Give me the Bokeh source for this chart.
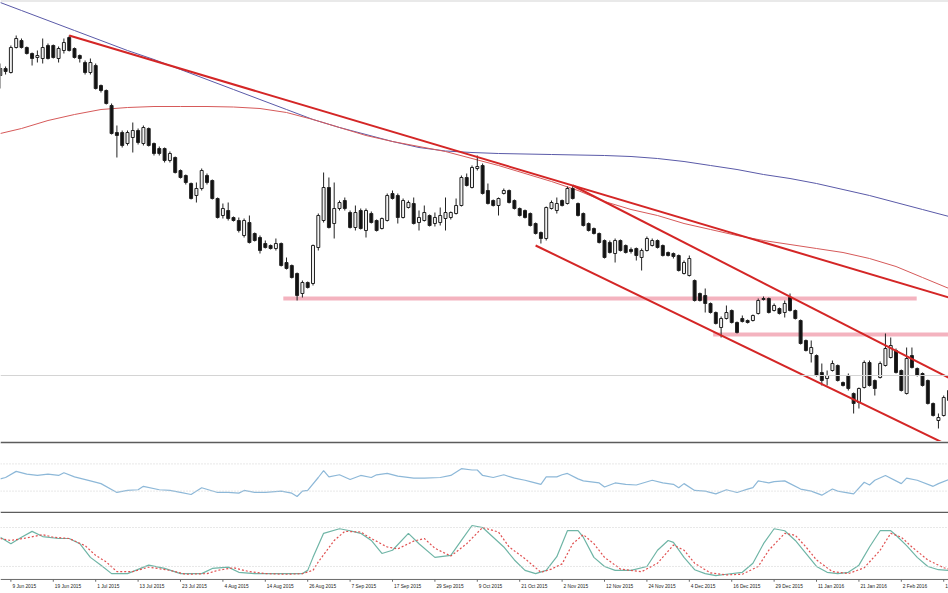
from bokeh.plotting import figure
from bokeh.layouts import column
from bokeh.models import Range1d, ColumnDataSource, Span
from bokeh.core.properties import value
from bokeh.embed import file_html
from bokeh.resources import INLINE

# ---------------- data ----------------
first_bar = 6  # bar index of the first visible candle (bar 0 = 28 May 2015)
opens = [186.5,187.2,186.8,189.3,190.0,189.3,188.7,188.3,188.2,189.5,189.5,188.2,189.0,190.3,189.2,188.5,187.8,186.8,187.5,185.5,
         185.0,183.5,180.8,180.8,179.7,180.3,181.0,179.7,181.2,179.7,179.2,179.2,178.0,178.3,177.0,176.5,175.7,174.5,175.2,176.5,
         176.0,174.2,172.5,173.0,172.3,172.0,170.5,171.8,170.7,170.3,169.7,169.5,169.2,169.7,167.8,167.5,166.7,164.7,165.8,165.7,
         169.3,172.0,175.3,171.7,173.2,174.0,172.8,171.3,173.0,171.0,172.7,172.0,171.2,172.0,174.7,174.5,172.3,173.3,173.7,171.8,
         172.0,172.5,171.7,171.8,172.2,172.3,172.7,173.5,176.3,175.3,177.2,177.5,175.0,174.0,173.5,174.7,175.0,174.0,173.2,173.0,
         172.7,171.7,170.8,170.2,173.2,173.0,174.0,173.7,175.2,173.7,172.7,171.7,171.2,170.7,170.0,169.8,168.7,170.0,169.5,169.1,
         169.2,168.3,169.0,169.5,170.0,169.5,168.8,168.7,168.5,166.7,166.5,166.0,164.7,164.5,163.7,162.8,161.3,162.2,163.0,161.8,
         162.2,162.0,162.0,162.7,164.2,164.2,163.0,163.2,162.8,164.3,163.0,162.0,160.0,158.7,158.5,156.8,156.2,157.0,157.5,155.8,
         156.5,154.7,153.8,155.3,157.8,156.0,156.3,157.5,158.3,159.0,157.0,154.7,158.5,157.2,156.7,156.0,153.7,152.0,152.5,154.0]
highs = [187.7,187.4,189.5,190.5,190.2,189.4,188.8,189.0,190.2,189.7,189.6,189.4,190.2,190.5,189.3,188.6,188.0,188.2,187.7,185.6,
         185.1,183.7,181.5,181.0,181.0,181.8,181.2,181.5,181.3,179.8,179.4,179.3,178.9,178.4,177.1,176.6,175.8,175.8,177.2,176.7,
         176.1,174.3,173.7,173.8,172.4,172.3,172.2,172.5,170.8,170.5,170.0,169.6,170.2,169.8,168.3,167.6,166.8,166.0,165.9,169.6,
         172.7,176.8,176.3,175.8,174.0,174.3,173.0,173.5,173.2,173.2,172.9,172.1,172.3,174.7,175.0,174.7,174.2,174.0,174.3,173.0,
         173.5,172.6,172.8,173.3,174.3,172.9,174.2,176.5,176.7,177.5,178.5,177.7,175.7,174.1,174.3,175.2,175.1,174.1,173.3,173.1,
         172.8,171.8,170.9,173.4,174.0,174.3,174.1,175.4,175.5,173.8,172.8,171.8,171.3,170.8,170.1,170.0,170.2,170.1,169.6,169.3,
         169.3,169.2,170.4,170.2,170.1,169.6,168.9,168.8,168.6,168.0,168.5,166.1,164.8,165.2,163.8,162.9,162.4,163.5,163.1,161.9,
         162.5,162.1,162.6,164.2,164.4,164.3,163.7,163.3,164.0,164.7,163.1,162.1,160.1,160.0,158.6,157.7,157.0,158.0,157.6,155.9,
         156.7,154.8,155.3,158.0,158.0,156.1,157.9,160.7,160.3,159.2,157.1,159.3,159.3,157.3,156.8,156.1,153.8,152.7,154.5,155.2]
lows = [185.2,186.6,186.7,189.2,189.2,188.6,187.5,187.8,187.7,188.1,188.2,187.8,188.7,188.9,188.2,187.8,186.6,186.6,185.1,184.8,
        183.6,180.6,178.3,179.3,179.5,178.8,179.6,179.5,179.4,178.5,178.5,177.8,177.8,176.7,176.2,175.6,174.1,173.8,175.0,175.6,
        174.1,172.2,172.2,172.0,171.9,170.8,170.3,169.7,169.9,168.7,169.2,169.1,169.0,167.4,167.1,166.2,164.0,164.3,165.2,165.5,
        169.0,171.8,171.2,170.2,173.0,173.0,171.2,171.0,171.1,170.3,171.7,170.9,171.1,171.9,174.1,171.7,172.2,173.2,171.6,171.0,
        171.9,171.4,171.4,171.5,171.0,172.1,172.6,173.4,175.4,175.2,177.0,174.6,173.6,173.4,172.5,174.6,173.7,173.1,172.4,172.2,
        171.4,170.6,169.7,170.0,173.1,172.7,173.4,173.6,174.1,172.4,171.4,170.9,170.6,169.7,168.2,168.7,167.8,168.9,168.7,168.7,
        168.0,167.0,168.9,169.4,169.2,168.4,168.4,168.2,166.9,166.6,166.4,163.9,163.9,162.8,162.7,161.6,160.3,162.1,161.7,160.7,
        161.8,161.7,161.9,162.6,164.0,162.7,162.9,162.6,162.3,162.9,162.1,159.6,158.9,157.8,156.4,155.5,155.5,156.9,155.9,155.4,
        155.0,152.7,153.2,155.2,155.4,154.5,156.2,157.4,158.2,156.7,154.9,154.6,157.2,156.4,155.4,153.6,152.4,151.2,152.4,153.9]
closes = [187.2,186.9,189.3,190.2,189.3,188.7,188.2,188.5,189.3,188.2,188.3,189.2,189.8,189.0,188.3,188.2,186.8,187.8,185.2,185.0,
          183.7,180.7,180.5,179.5,180.8,181.0,179.8,181.3,179.5,178.7,178.7,178.0,178.7,176.8,176.3,175.8,174.2,175.2,177.0,175.8,
          174.2,172.3,173.2,172.2,172.0,171.0,172.0,169.8,170.0,169.0,169.3,169.2,169.7,167.5,167.2,166.3,164.5,165.8,165.3,169.5,
          172.5,175.3,171.3,173.2,173.8,173.2,171.3,172.8,171.2,173.0,171.8,171.0,172.2,174.5,174.2,172.3,174.0,173.8,171.7,172.3,
          172.8,171.5,172.3,172.5,172.8,172.8,173.5,176.3,175.5,177.3,177.4,174.7,173.7,173.5,174.2,175.0,173.8,173.2,172.5,172.3,
          171.5,170.7,170.2,173.3,173.8,173.7,173.5,175.2,174.2,172.5,171.5,171.0,170.7,169.8,168.3,168.8,170.0,169.0,168.8,168.9,
          168.5,169.0,170.2,170.0,169.3,168.5,168.5,168.4,167.0,167.8,168.2,164.0,164.0,163.7,162.8,161.7,162.2,162.8,161.8,160.8,
          161.9,161.8,162.5,164.0,164.1,162.8,163.5,162.7,163.7,163.0,162.2,159.7,159.0,159.3,156.5,156.0,156.5,157.7,156.0,155.5,
          155.2,153.7,155.2,157.8,155.5,155.2,157.7,159.2,159.5,156.8,155.0,158.2,157.3,156.5,155.5,153.7,152.5,152.3,154.3,155.0]

# moving averages (read every 5 bars)
ma_bars = [6,10,15,20,25,30,35,40,45,50,55,60,65,70,75,80,85,90,95,100,105,110,115,120,125,130,135,140,145,150,155,160,165,170,175,180,185]
ma_blue = [193.8,193.0,192.0,191.0,190.0,189.0,188.1,187.1,186.1,185.1,184.1,183.1,182.1,181.3,180.6,179.9,179.3,178.95,178.8,178.7,
           178.65,178.6,178.55,178.5,178.4,178.2,177.9,177.5,177.1,176.6,176.2,175.7,175.1,174.5,173.8,173.1,172.4]
ma_red = [180.7,181.2,182.0,182.6,183.1,183.3,183.4,183.4,183.4,183.35,183.2,182.8,182.1,181.3,180.5,179.9,179.4,178.9,178.2,177.5,
          176.7,175.9,175.0,173.9,173.1,172.5,171.7,171.1,170.5,170.0,169.6,169.2,168.8,168.2,167.4,166.3,165.2]

# trend lines (bar, price) -> (bar, price)
tl_x0 = [19, 114, 107]
tl_y0 = [190.5, 175.5, 169.5]
tl_x1 = [190, 190, 190]
tl_y1 = [163.5, 154.9, 148.2]

# horizontal levels
lvl_price = [164.2, 160.6]
lvl_x0 = [59.4, 140.5]
lvl_x1 = [178.9, 190.0]
ref_price = 156.5

# RSI
rsi_bars = [6,7,9,11,13,15,17,18,20,23,25,28,30,32,33,36,38,40,42,44,47,49,51,52,54,56,59,61,62,63,64,66,67,68,70,72,74,76,77,79,
            81,84,86,89,91,93,95,96,97,99,101,103,105,106,108,109,111,112,113,115,116,119,120,122,124,126,129,131,133,134,135,137,139,141,143,
            145,147,148,149,151,152,154,155,157,159,161,163,164,167,169,170,171,173,176,177,179,182,183,185]
rsi_vals = [48,50,59,55,53,55,53,57,51,45,41,28,31,32,37,32,31,28,25,35,28,28,27,31,28,28,30,27,22,30,31,50,60,51,54,47,53,50,54,56,
            52,49,49,50,53,63,61,61,53,50,54,49,46,44,40,51,51,54,56,48,45,42,36,42,40,39,46,42,40,35,41,31,30,26,32,
            28,33,35,45,42,44,45,41,33,30,24,33,30,26,43,39,46,53,41,49,46,37,41,47]

# Stochastic %K and %D
k_bars = [6,8,10,12,14,17,19,21,23,25,27,30,34,37,40,44,46,49,51,54,57,60,63,64,65,67,70,72,74,76,78,80,83,85,88,91,93,95,97,99,
          101,103,105,107,109,111,113,115,116,118,120,122,125,128,130,132,133,135,137,139,141,143,146,148,150,152,154,156,158,160,
          162,164,166,168,170,172,174,175,177,179,181,183,185]
k_vals = [65,55,65,74,66,63,63,55,34,22,9,9,22,17,9,9,17,19,11,9,9,9,9,14,34,71,78,75,71,60,40,45,71,55,34,37,60,83,80,65,
          50,30,14,9,14,35,75,75,65,34,20,14,14,20,45,60,57,34,15,9,6,8,11,25,55,78,75,60,40,20,
          11,9,11,22,50,75,75,68,52,34,20,15,14]
d_bars = [6,8,11,14,16,19,22,24,26,28,31,34,38,41,45,47,50,53,56,60,63,65,66,69,71,74,76,79,81,84,86,88,91,94,97,100,102,105,108,110,
          112,114,116,118,120,123,127,130,133,135,137,140,143,146,149,151,154,156,158,160,163,166,169,172,174,176,178,181,184,185]
d_vals = [63,60,64,69,65,63,52,37,27,12,12,19,14,8,9,14,18,12,9,8,9,14,27,60,74,73,63,50,47,59,63,48,36,55,80,73,50,32,11,16,
          24,55,69,55,34,16,12,25,53,45,25,10,7,8,20,45,71,68,50,30,12,9,18,45,71,65,50,30,18,16]

tick_bars = [0,8,16,24,32,40,48,56,64,72,80,88,96,104,112,120,128,136,144,152,160,168,176,184]
tick_labels = ["28 May 2015","9 Jun 2015","19 Jun 2015","1 Jul 2015","13 Jul 2015","23 Jul 2015","4 Aug 2015","14 Aug 2015",
               "26 Aug 2015","7 Sep 2015","17 Sep 2015","29 Sep 2015","9 Oct 2015","21 Oct 2015","2 Nov 2015",
               "12 Nov 2015","24 Nov 2015","4 Dec 2015","16 Dec 2015","29 Dec 2015","11 Jan 2016","21 Jan 2016",
               "2 Feb 2016","12 Feb 2016"]

# ---------------- chart ----------------
W = 948
xr = Range1d(6.04, 184.9)
bars = list(range(first_bar, first_bar + len(opens)))

up = dict(x=[], top=[], bottom=[], hi=[], lo=[])
dn = dict(x=[], top=[], bottom=[], hi=[], lo=[])
for b, o, h, l, c in zip(bars, opens, highs, lows, closes):
    d = up if c >= o else dn
    d["x"].append(b); d["top"].append(max(o, c)); d["bottom"].append(min(o, c))
    d["hi"].append(h); d["lo"].append(l)

main = figure(width=W, height=441, x_range=xr, y_range=Range1d(149.9, 193.9),
              output_backend="svg", toolbar_location=None,
              x_axis_location=None, y_axis_location=None,
              min_border=0, min_border_top=1, border_fill_color="#a8a8a8",
              outline_line_color=None)
main.grid.visible = False

main.add_layout(Span(location=ref_price, dimension="width", line_color="#d4d4d4", line_width=1))
main.segment(x0=lvl_x0, y0=lvl_price, x1=lvl_x1, y1=lvl_price, line_color="#f4b3bf", line_width=4)

main.line(ma_bars, ma_blue, line_color="#5a5aa8", line_width=1)
main.line(ma_bars, ma_red, line_color="#d65a5a", line_width=1)

for d, fill in ((up, "#f2f2f2"), (dn, "#111111")):
    src = ColumnDataSource(d)
    main.segment(x0="x", y0="lo", x1="x", y1="hi", source=src, line_color="#222222", line_width=1)
    main.vbar(x="x", top="top", bottom="bottom", width=0.56, source=src,
              fill_color=fill, line_color="#222222", line_width=1)

main.segment(x0=tl_x0, y0=tl_y0, x1=tl_x1, y1=tl_y1, line_color="#d42626", line_width=2)

# RSI panel
rsi = figure(width=W, height=72, x_range=xr, y_range=Range1d(0, 100),
             output_backend="svg", toolbar_location=None,
             x_axis_location=None, y_axis_location=None,
             min_border=0, min_border_top=2, min_border_bottom=2, border_fill_color="#5c5c5c",
             outline_line_color=None)
rsi.grid.visible = False
for lv in (30, 70):
    rsi.add_layout(Span(location=lv, dimension="width", line_color="#cfcfcf", line_width=1, line_dash="1 2"))
rsi.line(rsi_bars, rsi_vals, line_color="#8db8d8", line_width=1.2)

# Stochastic panel (its frame also holds the date strip below the 0 level)
sto = figure(width=W, height=80, x_range=xr, y_range=Range1d(-21.6, 101.5),
             output_backend="svg", toolbar_location=None,
             x_axis_location=None, y_axis_location=None,
             min_border=0, outline_line_color=None)
sto.grid.visible = False
for lv in (20, 80):
    sto.add_layout(Span(location=lv, dimension="width", line_color="#cfcfcf", line_width=1, line_dash="1 2"))
sto.line(k_bars, k_vals, line_color="#6fb5a6", line_width=1.2)
sto.line(d_bars, d_vals, line_color="#e05050", line_width=1.2, line_dash="2 2")

# date axis
sto.add_layout(Span(location=0, dimension="width", line_color="#6a6a6a", line_width=1))
sto.segment(x0=tick_bars, y0=[0] * len(tick_bars), x1=tick_bars, y1=[-3.5] * len(tick_bars),
            line_color="#6a6a6a", line_width=1)
sto.text(x=tick_bars, y=[-11.5] * len(tick_bars), text=tick_labels,
         text_align="left", text_baseline="middle", x_offset=1.5,
         text_font=value("Liberation Sans"), text_font_size=value("4.8px"), text_color="#222222")

layout = column(main, rsi, sto, spacing=0)
open("out.html", "w").write(file_html(layout, INLINE))
